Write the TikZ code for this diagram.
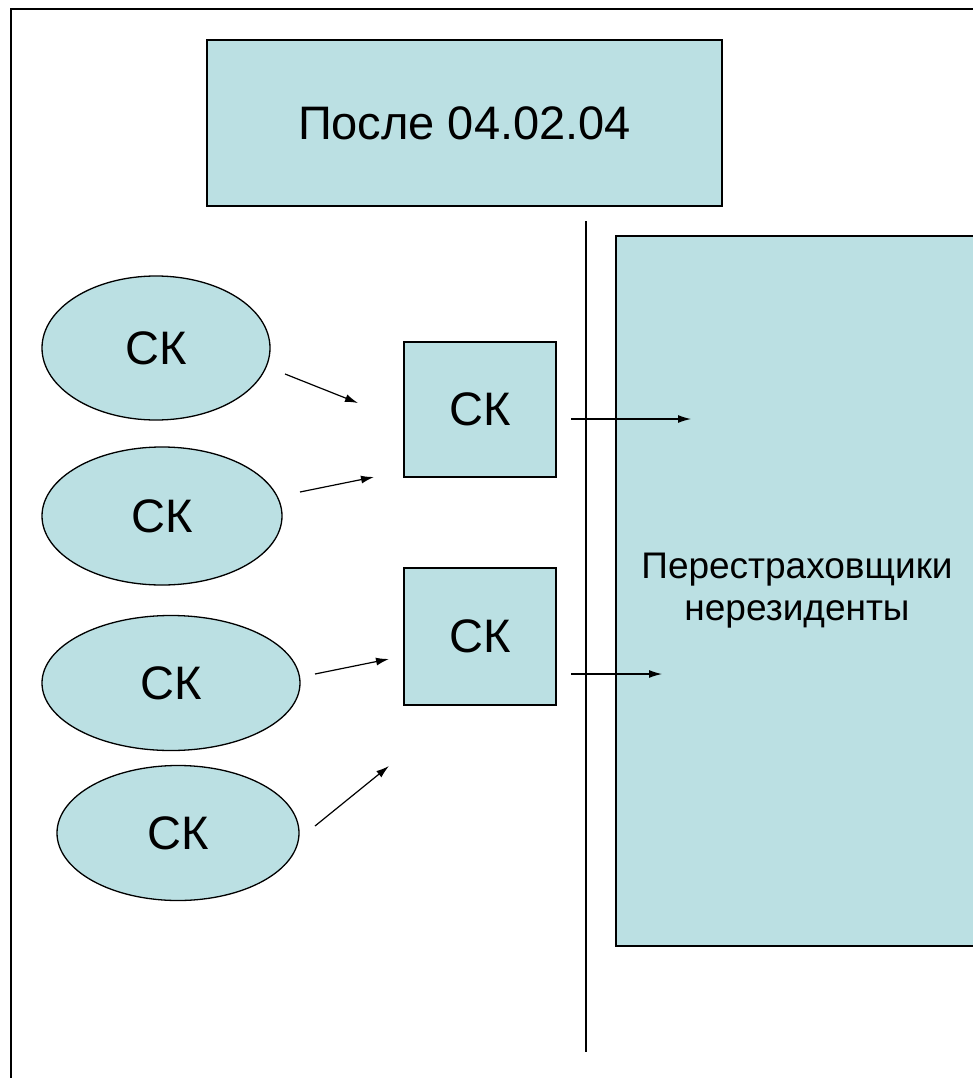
\documentclass[tikz,border=0pt]{standalone}
\usepackage{fontspec}
\setmainfont{Liberation Sans}
\usetikzlibrary{shapes.geometric,arrows.meta}
\definecolor{paleteal}{RGB}{187,224,227}
\tikzset{
  company/.style={ellipse,draw,fill=paleteal,line width=1.3pt,
    font=\fontsize{47}{54}\selectfont},
  pool/.style={rectangle,draw,fill=paleteal,line width=1.3pt,
    minimum width=152pt,font=\fontsize{47}{54}\selectfont},
  flow/.style={-{Latex[length=13pt,width=8pt]},line width=1.2pt}
}
\begin{document}
\begin{tikzpicture}[x=1pt,y=-1pt]
\useasboundingbox (0,0) rectangle (973,1078);
\clip (0,0) rectangle (973,1078);
% Outer frame
\draw[line width=2pt] (11,9) rectangle (995,1095);

% Title box
\node[rectangle,draw,fill=paleteal,line width=1.3pt,minimum width=515pt,
  minimum height=166pt,font=\fontsize{47}{54}\selectfont]
  (title) at (464.5,123) {После 04.02.04};

% Border line and reinsurers
\coordinate (BT) at (586,221);
\coordinate (BB) at (586,1052);
\draw[line width=1.3pt] (BT) -- (BB);
\node[rectangle,draw,fill=paleteal,line width=1.3pt,minimum width=362pt,
  minimum height=710pt,align=center,font=\fontsize{37}{42}\selectfont]
  (reins) at (797,591) {Перестраховщики\\нерезиденты};

% Insurance companies
\node[company,minimum width=228pt,minimum height=144pt] (sk1) at (156,348) {СК};
\node[company,minimum width=240pt,minimum height=138pt] (sk2) at (162,516) {СК};
\node[company,minimum width=258pt,minimum height=135pt] (sk3) at (171,683) {СК};
\node[company,minimum width=242pt,minimum height=135pt] (sk4) at (178,833) {СК};

% Intermediate companies
\node[pool,minimum height=135pt] (mid1) at (480,409.5) {СК};
\node[pool,minimum height=137pt] (mid2) at (480,636.5) {СК};

% Flows towards intermediates
\coordinate (a1) at (285,374);  \coordinate (b1) at (358,403);
\coordinate (a2) at (300,492);  \coordinate (b2) at (374,477);
\coordinate (a3) at (315,674);  \coordinate (b3) at (389,659);
\coordinate (a4) at (315,826);  \coordinate (b4) at (389,766);
\foreach \i in {1,...,4}
  \draw[flow] (a\i) -- (b\i);

% Flows to reinsurers
\coordinate (c1) at (571,419);  \coordinate (d1) at (691,419);
\coordinate (c2) at (571,674);  \coordinate (d2) at (662,674);
\draw[flow] (c1) -- (d1);
\draw[flow] (c2) -- (d2);
\end{tikzpicture}
\end{document}
